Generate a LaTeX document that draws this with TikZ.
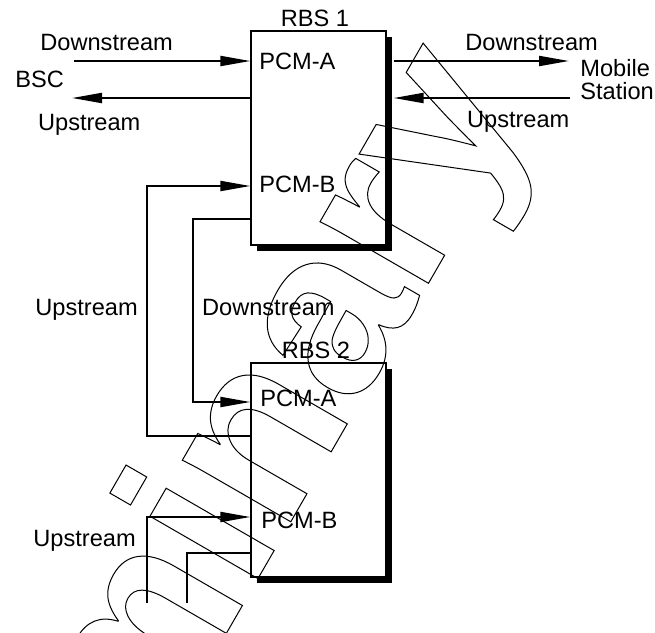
\documentclass[tikz,border=0pt]{standalone}
\usepackage{fontspec}
\setmainfont{Liberation Sans}
\usetikzlibrary{arrows.meta,shadows}
\newcommand{\outlinetext}[1]{\special{pdf:literal direct 1 Tr 0.5 w}#1\special{pdf:literal direct 0 Tr}}
\tikzset{
  lbl/.style={font=\fontsize{11.8}{14}\selectfont, inner sep=0pt, anchor=base west},
  rbs/.style={draw, line width=0.6pt, fill=white, minimum width=67.5pt, minimum height=107pt, inner sep=0pt,
    drop shadow={shadow xshift=3pt, shadow yshift=-3pt, fill=black, opacity=1}},
  conn/.style={line width=1pt},
  arr/.style={conn, -{Triangle[length=15pt,width=5pt]}},
  wm/.style={rotate=60, anchor=base west, inner sep=0pt, font=\fontsize{118}{120}\selectfont\bfseries}
}
\begin{document}
\begin{tikzpicture}[x=0.5pt,y=-0.5pt]
\useasboundingbox (0,0) rectangle (655,633);
\clip (0,0) rectangle (655,633);
% boxes
\node[rbs] (rbs1) at (318.5,138) {};
\node[rbs] (rbs2) at (318.5,470) {};
\node[lbl, anchor=base] (t1) at (315,26) {RBS 1};
\node[lbl, anchor=base] (t2) at (316,358) {RBS 2};
\node[lbl] (pa1) at (259,69.3) {PCM-A};
\node[lbl] (pb1) at (259,192.3) {PCM-B};
\node[lbl] (pa2) at (260,406) {PCM-A};
\node[lbl] (pb2) at (261,528) {PCM-B};
% outer labels
\node[lbl] (ld) at (40,50) {Downstream};
\node[lbl] (bsc) at (15,87.3) {BSC};
\node[lbl] (lu) at (37.7,130) {Upstream};
\node[lbl] (rd) at (465,50) {Downstream};
\node[lbl] (mob) at (580,76.7) {Mobile};
\node[lbl] (sta) at (580,99) {Station};
\node[lbl] (ru) at (466.7,127.7) {Upstream};
\node[lbl] (mu) at (35,315) {Upstream};
\node[lbl] (md) at (201.7,315) {Downstream};
\node[lbl] (bu) at (33,546.7) {Upstream};
% connector ends
\coordinate (bscin) at (74,61);
\coordinate (bscout) at (72,98);
\coordinate (msin) at (569,61);
\coordinate (msout) at (570,98);
\coordinate (r1e) at ([xshift=3.5pt]rbs1.east);
\coordinate (upL) at (147,436);
\coordinate (upT) at (147,186);
\coordinate (dnT) at (193,219);
\coordinate (dnB) at (193,402);
\coordinate (bu1) at (147,603);
\coordinate (bu2) at (147,517);
\coordinate (bd1) at (187,553);
\coordinate (bd2) at (187,603);
% connectors
\draw[arr] (bscin) -- (bscin -| rbs1.west);
\draw[arr] (bscout -| rbs1.west) -- (bscout);
\draw[arr] (r1e |- msin) -- (msin);
\draw[arr] (msout) -- (r1e |- msout);
\draw[arr] (upL -| rbs2.west) -- (upL) -- (upT) -- (upT -| rbs1.west);
\draw[arr] (dnT -| rbs1.west) -- (dnT) -- (dnB) -- (dnB -| rbs2.west);
\draw[arr] (bu1) -- (bu2) -- (bu2 -| rbs2.west);
\draw[conn] (bd1 -| rbs2.west) -- (bd1) -- (bd2);
% watermark
\node[wm] (wmk) at (-111.2,1218) {\outlinetext{Preliminary}};
\end{tikzpicture}
\end{document}
